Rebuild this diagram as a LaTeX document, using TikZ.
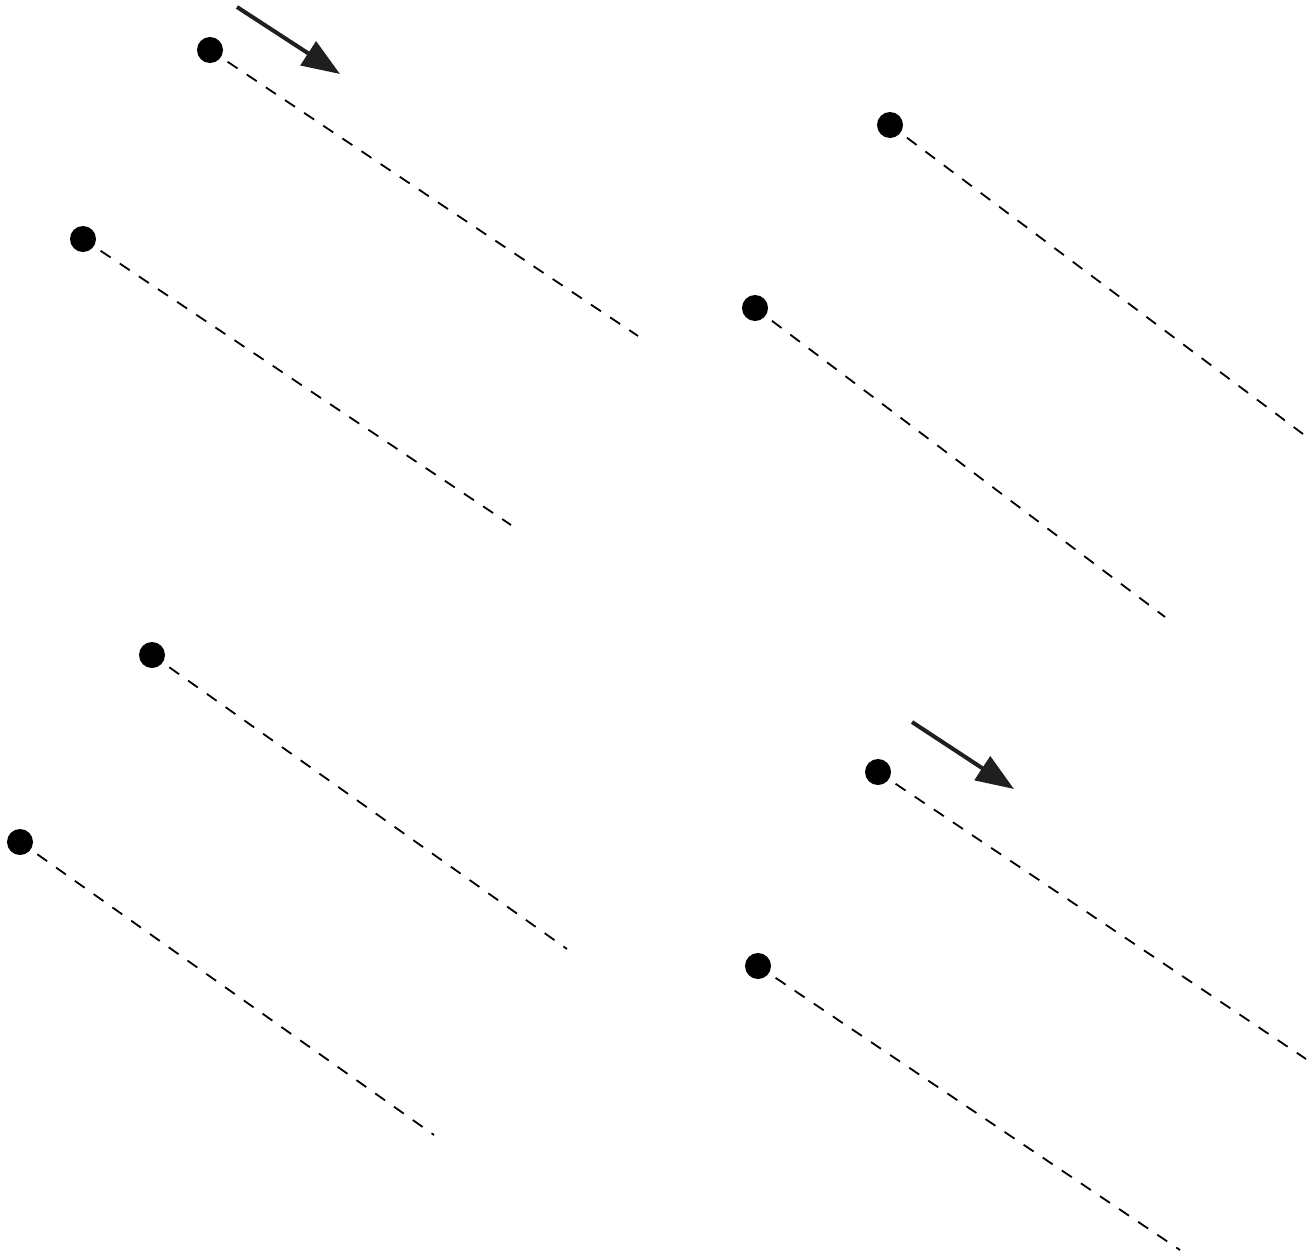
\documentclass[tikz,border=0pt]{standalone}
\usetikzlibrary{arrows.meta}
\begin{document}
\begin{tikzpicture}[x=1pt,y=-1pt,
  dotnode/.style={circle,fill=black,inner sep=0pt,minimum size=26pt},
  trail/.style={dashed,dash pattern=on 12pt off 11pt,line width=1.8pt,shorten <=8pt},
  motion/.style={line width=4pt,color=black!88,-{Triangle[length=38pt,width=28pt]}}]
\useasboundingbox (0,0) rectangle (1314,1256);
% dots
\node[dotnode] (d1) at (210,50) {};
\node[dotnode] (d2) at (83,239) {};
\node[dotnode] (d3) at (890,125) {};
\node[dotnode] (d4) at (755,308) {};
\node[dotnode] (d5) at (152,655) {};
\node[dotnode] (d6) at (20,842) {};
\node[dotnode] (d7) at (878,772) {};
\node[dotnode] (d8) at (758,966) {};
% trail ends
\coordinate (e1) at (638,336);
\coordinate (e2) at (511,525);
\coordinate (e3) at (1303,434);
\coordinate (e4) at (1165,617);
\coordinate (e5) at (567,949);
\coordinate (e6) at (434,1135);
\coordinate (e7) at (1306,1059);
\coordinate (e8) at (1180,1250);
\foreach \i in {1,...,8} \draw[trail] (d\i) -- (e\i);
% arrows
\coordinate (a1s) at (237,7);
\coordinate (a1e) at (340,74);
\coordinate (a2s) at (912,722);
\coordinate (a2e) at (1014,789);
\draw[motion] (a1s) -- (a1e);
\draw[motion] (a2s) -- (a2e);
\end{tikzpicture}
\end{document}
